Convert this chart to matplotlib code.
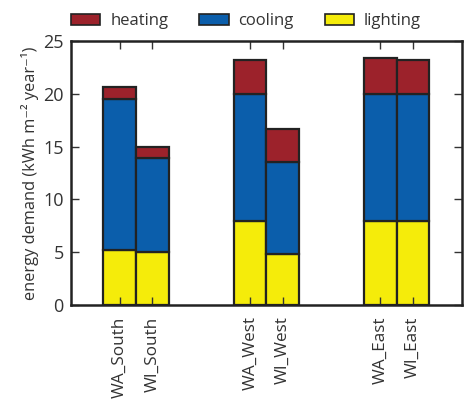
import numpy as np
import matplotlib.pyplot as plt
from matplotlib.patches import Patch

# cases and their energy demand split (kWh m-2 year-1)
cases = ["WA_South", "WI_South", "WA_West", "WI_West", "WA_East", "WI_East"]
positions = [1, 2, 5, 6, 9, 10]
lighting = [5.25, 5.0, 7.95, 4.85, 7.95, 7.95]
cooling = [14.25, 8.95, 12.05, 8.65, 12.05, 12.05]
heating = [1.1, 1.05, 3.2, 3.2, 3.4, 3.2]

colors = {"heating": "#9c222b", "cooling": "#0b5eab", "lighting": "#f5ec0a"}
edge = "#222222"

plt.rcParams["font.family"] = ["Open Sans", "DejaVu Sans"]

fig = plt.figure(figsize=(4.69, 4.01), dpi=100)
ax = fig.add_axes([0.151, 0.239, 0.834, 0.659])

light = np.array(lighting)
cool = np.array(cooling)
heat = np.array(heating)

bar_kw = dict(width=1.0, edgecolor=edge, linewidth=1.6)
ax.bar(positions, light, color=colors["lighting"], **bar_kw)
ax.bar(positions, cool, bottom=light, color=colors["cooling"], **bar_kw)
ax.bar(positions, heat, bottom=light + cool, color=colors["heating"], **bar_kw)

ax.set_xlim(-0.5, 11.5)
ax.set_ylim(0, 25)
ax.set_yticks([0, 5, 10, 15, 20, 25])
ax.set_xticks(positions)
ax.set_xticklabels(cases, rotation=90, fontsize=12.3, color="#333333")
ax.tick_params(axis="both", direction="in", length=6, width=1.0,
               top=True, right=True, color="#333333")
ax.tick_params(axis="y", labelsize=13, labelcolor="#333333", pad=5)
ax.tick_params(axis="x", pad=8)
for s in ax.spines.values():
    s.set_linewidth(1.8)
    s.set_color("#222222")

ax.set_ylabel("energy demand (kWh m\u207b\u00b2 year\u207b\u00b9)", fontsize=11.8,
              color="#333333", labelpad=3)

handles = [Patch(facecolor=colors[k], edgecolor=edge, linewidth=1.2, label=k)
           for k in ["heating", "cooling", "lighting"]]
fig.legend(handles=handles, loc="upper left", bbox_to_anchor=(0.12, 1.005),
           ncol=3, frameon=False, fontsize=12, handlelength=1.75,
           handleheight=0.65, columnspacing=1.85, handletextpad=0.6,
           labelcolor="#333333")

fig.savefig("out.png", dpi=100)
